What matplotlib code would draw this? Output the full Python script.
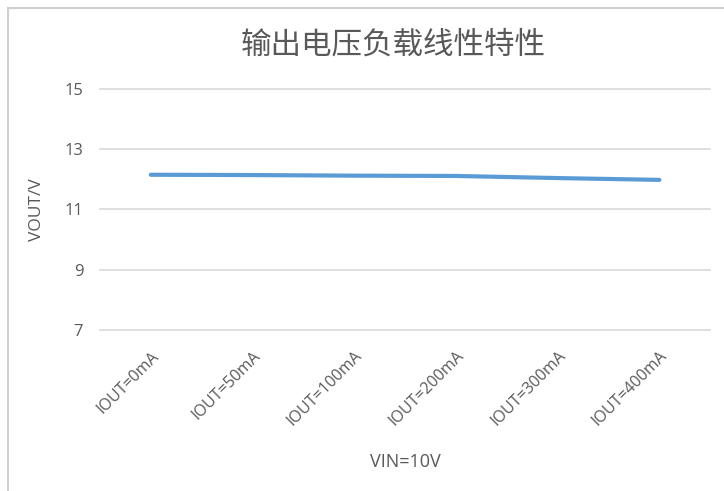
import matplotlib.pyplot as plt
from matplotlib.patches import Rectangle
from matplotlib.transforms import ScaledTranslation

plt.rcParams['font.family'] = ['Open Sans', 'Noto Sans CJK SC', 'DejaVu Sans']

# chart data
categories = ['IOUT=0mA', 'IOUT=50mA', 'IOUT=100mA', 'IOUT=200mA', 'IOUT=300mA', 'IOUT=400mA']
vout = [12.15, 12.14, 12.12, 12.11, 12.04, 11.98]
y_ticks = [7, 9, 11, 13, 15]

title = '输出电压负载线性特性'
x_label = 'VIN=10V'
y_label = 'VOUT/V'

text_grey = '#595959'
grid_grey = '#d9d9d9'
line_blue = '#5b9bd5'

fig = plt.figure(figsize=(7.24, 4.91), dpi=100)
ax = fig.add_axes([0.138, 0.328, 0.843, 0.491])

# outer chart frame
fig.patches.append(Rectangle((8 / 724, -0.1), 1.2, 1 - 8 / 491 + 0.1,
                             transform=fig.transFigure, fill=False,
                             edgecolor='#d0d0d0', linewidth=1.5))

x = range(len(categories))
ax.plot(x, vout, color=line_blue, linewidth=3.0, solid_capstyle='round')

ax.set_xlim(-0.5, len(categories) - 0.5)
ax.set_ylim(7, 15)
ax.set_yticks(y_ticks)
ax.set_xticks(list(x))
ax.set_xticklabels(categories, rotation=45, ha='right', rotation_mode='anchor',
                   fontsize=11.5, color=text_grey)
# nudge rotated labels a bit right, like Excel does
shift = ScaledTranslation(7 / 100, 0, fig.dpi_scale_trans)
for lbl in ax.get_xticklabels():
    lbl.set_transform(lbl.get_transform() + shift)
ax.tick_params(axis='y', labelsize=12, colors=text_grey, length=0, pad=12)
ax.tick_params(axis='x', length=0, pad=13)
ax.grid(axis='y', color=grid_grey, linewidth=1.2)
for gl in ax.get_ygridlines():
    gl.set_clip_on(False)
ax.set_axisbelow(True)
for s in ax.spines.values():
    s.set_visible(False)

ax.set_ylabel(y_label, fontsize=12.5, color=text_grey, labelpad=14)
fig.text(405 / 724, 1 - 462 / 491, x_label, ha='center', va='center',
         fontsize=13, color=text_grey)
fig.text(393 / 724, 1 - 45 / 491, title, ha='center', va='center',
         fontsize=22, color=text_grey, family=['Noto Sans CJK SC', 'DejaVu Sans'])

fig.savefig('out.png', dpi=100)
